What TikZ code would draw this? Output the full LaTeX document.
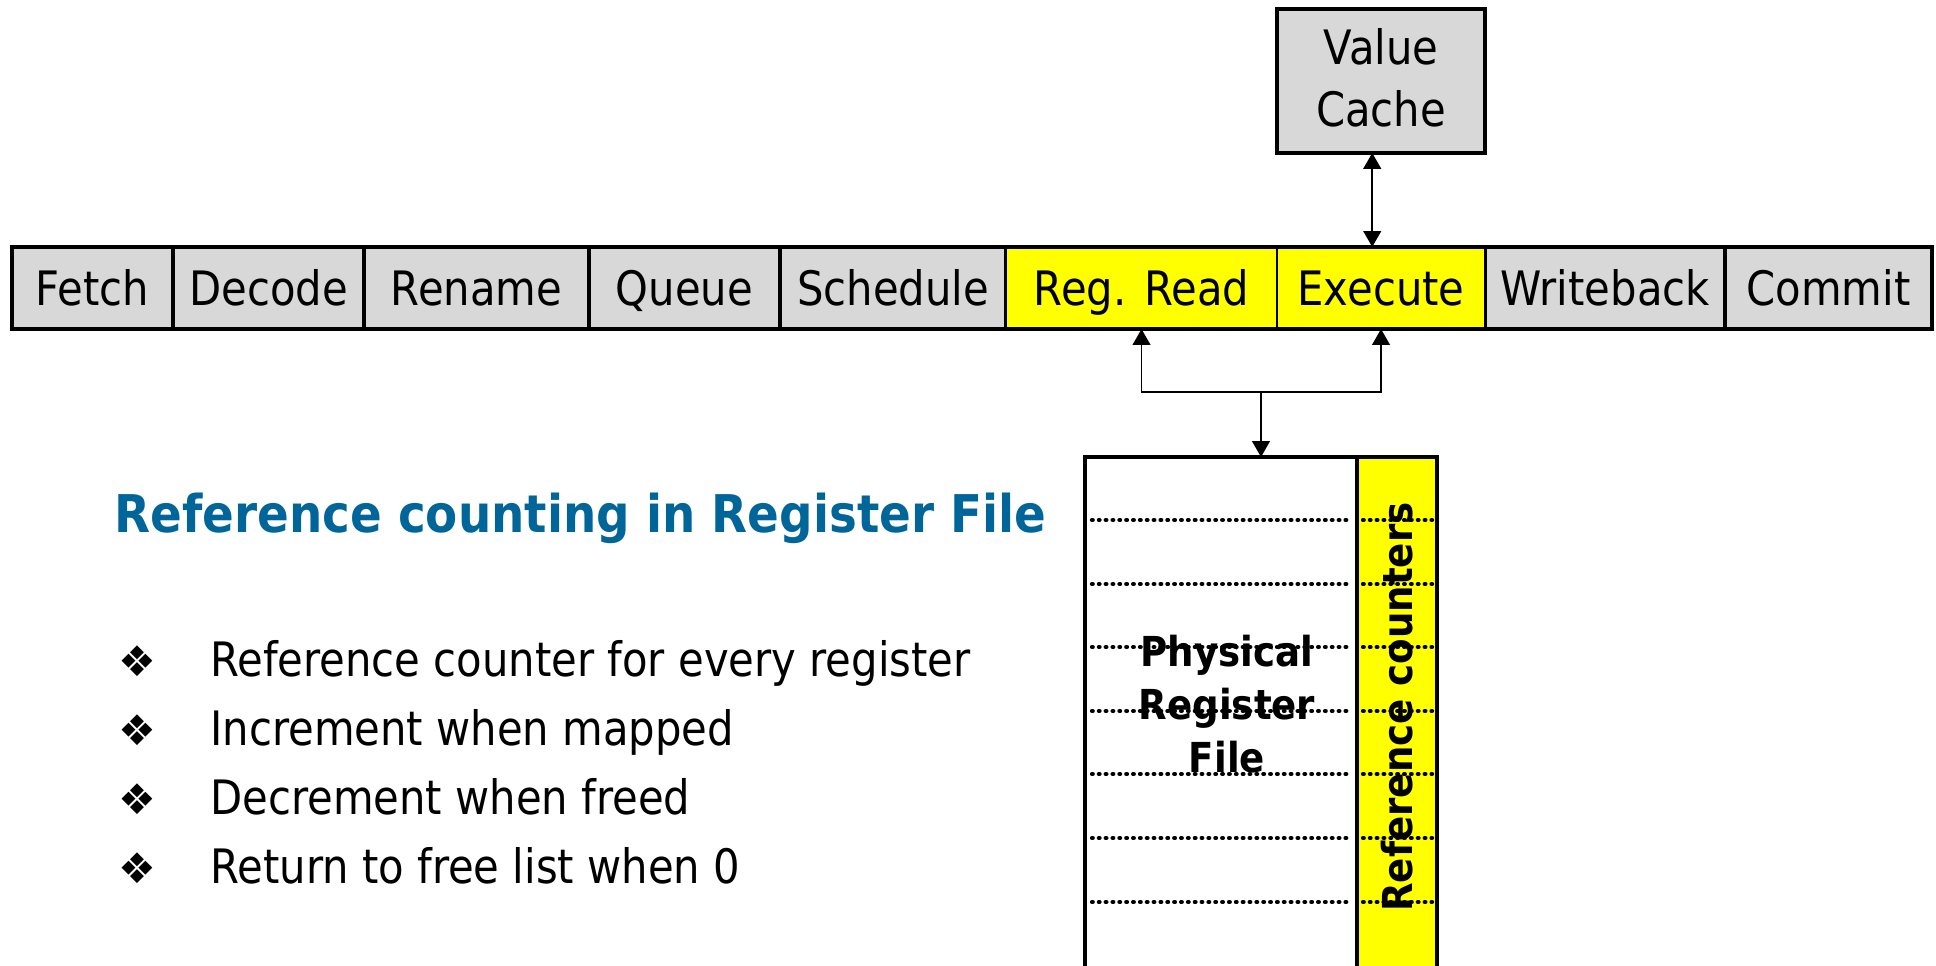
\documentclass[tikz,border=0pt]{standalone}
\usepackage{fontspec}
\setmainfont{DejaVu Sans}[FakeStretch=0.88]
\newfontfamily\boldfont{DejaVu Sans}[FakeStretch=0.9]
\newfontfamily\dingfont{DejaVu Sans}
\usetikzlibrary{arrows.meta}
\definecolor{stagegray}{RGB}{216,216,216}
\definecolor{titleblue}{RGB}{0,102,153}
\definecolor{hotyellow}{RGB}{255,255,0}

\begin{document}
\begin{tikzpicture}[x=0.02cm, y=-0.02cm,
	stage/.style={draw, fill=stagegray, inner sep=0pt, outer sep=0pt, minimum height=46.7pt,
		text height=19.7pt, text depth=0pt, font=\fontsize{27}{32}\selectfont},
	cachebox/.style={draw, line width=2.3pt, fill=stagegray, inner sep=0pt, outer sep=0pt,
		minimum width=118.9pt, minimum height=81.9pt, align=center, text depth=4pt,
		font=\fontsize{27}{35.8}\selectfont},
	regbox/.style={draw, line width=2pt, inner sep=0pt, outer sep=0pt, anchor=north west, minimum height=303pt},
	tip/.style={line width=1.1pt, -{Triangle[length=9pt,width=10pt]}},
	link/.style={tip, {Triangle[length=9pt,width=10pt]}-{Triangle[length=9pt,width=10pt]}},
	rowline/.style={line width=2.4pt, dash pattern=on 0.4pt off 3.5pt, line cap=round},
	boldtext/.style={inner sep=0pt, font=\boldfont\bfseries\fontsize{23.5}{30}\selectfont},
	itemtext/.style={anchor=base west, inner sep=0pt, font=\fontsize{27}{32}\selectfont},
	itemmark/.style={anchor=base west, inner sep=0pt, font=\dingfont\fontsize{24}{28}\selectfont}]
	\useasboundingbox (0,0) rectangle (1936,966);
	% pipeline stages
	\foreach \nm/\xa/\xb/\txt/\col/\lw in {fetch/12/173/Fetch/stagegray/1.7pt,
		decode/173/364/Decode/stagegray/1.7pt, rename/364/589/Rename/stagegray/1.7pt,
		queue/589/780/Queue/stagegray/1.7pt, sched/780/1006/Schedule/stagegray/1.7pt,
		regrd/1006/1277/Reg. Read/hotyellow/1pt, exec/1277/1485/Execute/hotyellow/1pt,
		wback/1485/1725/Writeback/stagegray/1.7pt, commit/1725/1932/Commit/stagegray/1.7pt}
		{\node[stage, fill=\col, line width=\lw, minimum width={(\xb-\xa)*0.569pt}] (\nm) at ({(\xa+\xb)/2},288) {\txt};}
	\draw[line width=2.3pt] (fetch.north west) rectangle (commit.south east);
	% value cache
	\node[cachebox] (vcache) at (1381,81) {Value\\Cache};
	\coordinate (vcdrop) at ([xshift=-5pt]vcache.south);
	\draw[link] (vcdrop) -- (vcdrop |- exec.north);
	% register file
	\node[regbox, fill=white, minimum width=154.8pt] (prf) at (1085,457) {};
	\node[regbox, fill=hotyellow, minimum width=45.5pt] (refcol) at (1357,457) {};
	\foreach \y in {520,584,647,711,774,838,902}
		{\draw[rowline] (1092,\y) -- (1350,\y);
		\draw[rowline] (1363,\y) -- (1432,\y);}
	\node[boldtext, align=center] (prftxt) at (1227,704) {Physical\\Register\\File};
	\node[boldtext, rotate=90] (reftxt) at (1397,707) {Reference counters};
	% read ports
	\coordinate (split) at (1261,392);
	\draw[link] (regrd.south) -- (regrd.south |- split) -- (exec.south |- split) -- (exec.south);
	\draw[tip] (split) -- (split |- prf.north);
	% text on the left
	\node[anchor=base west, inner sep=0pt, text=titleblue, font=\boldfont\bfseries\fontsize{29.6}{34}\selectfont]
		(title) at (114,532) {Reference counting in Register File};
	\foreach \i/\y/\txt in {1/676/Reference counter for every register, 2/745/Increment when mapped,
		3/814/Decrement when freed, 4/883/Return to free list when 0}
		{\node[itemmark] (mark\i) at (118,\y) {❖};
		\node[itemtext] (item\i) at (210,\y) {\txt};}
\end{tikzpicture}
\end{document}
